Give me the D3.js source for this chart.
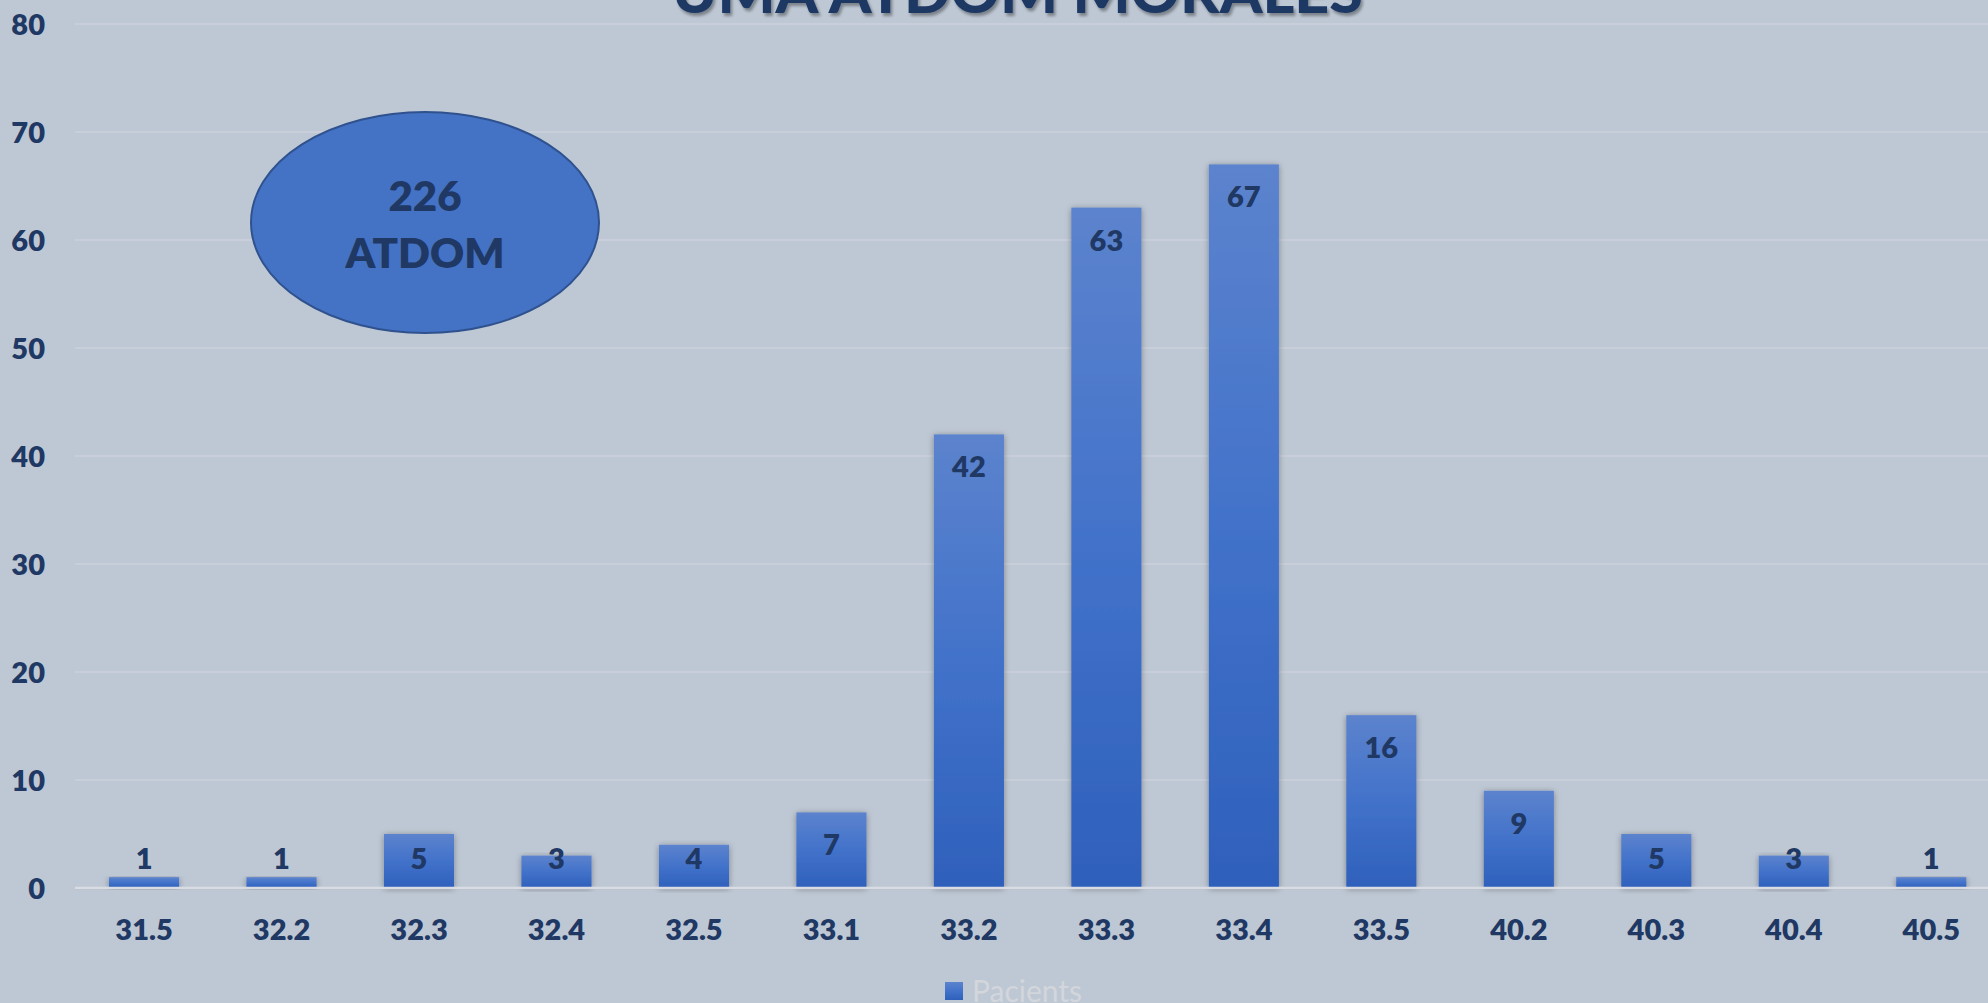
<!DOCTYPE html>
<html>
<head>
<meta charset="utf-8">
<script src="https://cdn.jsdelivr.net/npm/d3@7"></script>
<style>
  html, body { margin: 0; padding: 0; background: #BEC8D4; overflow: hidden; }
  svg { display: block; }
  text { font-family: Lato, "Open Sans", sans-serif; }
</style>
</head>
<body>
<svg id="chart" width="1988" height="1003"></svg>
<script>
const categories = ["31.5","32.2","32.3","32.4","32.5","33.1","33.2","33.3","33.4","33.5","40.2","40.3","40.4","40.5"];
const pacients = [1,1,5,3,4,7,42,63,67,16,9,5,3,1];
const yTicks = [0,10,20,30,40,50,60,70,80];
const titleText = "UMA ATDOM MORALES";
const seriesName = "Pacients";
const calloutLines = ["226", "ATDOM"];

const W = 1988, H = 1003;
const svg = d3.select("#chart");
const navy = "#1F3864";
const labelWeight = 800;

const defs = svg.append("defs");
const grad = defs.append("linearGradient").attr("id", "barGrad")
  .attr("x1", 0).attr("y1", 0).attr("x2", 0).attr("y2", 1);
grad.append("stop").attr("offset", "0%").attr("stop-color", "#5C83CD");
grad.append("stop").attr("offset", "50%").attr("stop-color", "#4272CA");
grad.append("stop").attr("offset", "100%").attr("stop-color", "#2E60BB");

const sh = defs.append("filter").attr("id", "barShadow")
  .attr("x", "-30%").attr("y", "-10%").attr("width", "160%").attr("height", "120%");
sh.append("feDropShadow").attr("dx", 0).attr("dy", 1).attr("stdDeviation", 3)
  .attr("flood-color", "#000").attr("flood-opacity", 0.35);

const tsh = defs.append("filter").attr("id", "textShadow")
  .attr("x", "-5%").attr("y", "-30%").attr("width", "110%").attr("height", "160%");
tsh.append("feDropShadow").attr("dx", 2).attr("dy", 3).attr("stdDeviation", 1.5)
  .attr("flood-color", "#000").attr("flood-opacity", 0.35);

const x = d3.scaleBand().domain(categories).range([75.3, 2000])
  .paddingInner(0.49).paddingOuter(0.245);
const y = d3.scaleLinear().domain([0, 80]).range([888, 24]);

// gridlines
svg.append("g").selectAll("line").data(yTicks.filter(d => d > 0)).join("line")
  .attr("x1", 75).attr("x2", W)
  .attr("y1", d => y(d)).attr("y2", d => y(d))
  .attr("stroke", "#CBD2DC").attr("stroke-width", 1.5);

// y axis labels
const yAxis = svg.append("g").attr("transform", "translate(75,0)")
  .call(d3.axisLeft(y).tickValues(yTicks).tickSize(0).tickPadding(30));
yAxis.select(".domain").remove();
yAxis.selectAll("text")
  .attr("fill", navy).attr("font-size", 29).attr("font-weight", labelWeight)
  .attr("font-family", "Lato, sans-serif").attr("dy", "0.36em");

// title
svg.append("text").attr("x", 1017.5).attr("y", 13)
  .attr("text-anchor", "middle")
  .attr("font-size", 58).attr("font-weight", 900)
  .attr("textLength", 691).attr("lengthAdjust", "spacingAndGlyphs")
  .attr("fill", navy).attr("filter", "url(#textShadow)")
  .text(titleText);

// bars
svg.append("g").selectAll("rect").data(pacients).join("rect")
  .attr("x", (d, i) => x(categories[i]))
  .attr("y", d => y(d))
  .attr("width", x.bandwidth())
  .attr("height", d => y(0) - y(d))
  .attr("fill", "url(#barGrad)")
  .attr("filter", "url(#barShadow)");

// axis line
svg.append("line").attr("x1", 75).attr("x2", W).attr("y1", y(0) + 1).attr("y2", y(0) + 1)
  .attr("stroke", "#8E98A6").attr("stroke-width", 1).attr("opacity", 0.5);
svg.append("line").attr("x1", 75).attr("x2", W).attr("y1", y(0)).attr("y2", y(0))
  .attr("stroke", "#D9DDE3").attr("stroke-width", 2.5);

// x axis labels
const xAxis = svg.append("g").attr("transform", `translate(0,${y(0)})`)
  .call(d3.axisBottom(x).tickSize(0).tickPadding(31.4));
xAxis.select(".domain").remove();
xAxis.selectAll("text")
  .attr("fill", navy).attr("font-size", 29).attr("font-weight", labelWeight)
  .attr("font-family", "Lato, sans-serif");

// data labels
svg.append("g").selectAll("text").data(pacients).join("text")
  .attr("x", (d, i) => x(categories[i]) + x.bandwidth() / 2)
  .attr("y", d => Math.min(y(d) + 43, 869))
  .attr("text-anchor", "middle")
  .attr("fill", navy).attr("font-size", 29).attr("font-weight", labelWeight)
  .text(d => d);

// callout ellipse
const cg = svg.append("g");
cg.append("ellipse").attr("cx", 425).attr("cy", 222.5).attr("rx", 174).attr("ry", 110.5)
  .attr("fill", "#4472C4").attr("stroke", "#2F528F").attr("stroke-width", 2);
cg.append("text").attr("x", 425).attr("y", 211).attr("text-anchor", "middle")
  .attr("fill", navy).attr("font-size", 42).attr("font-weight", labelWeight).text(calloutLines[0]);
cg.append("text").attr("x", 425).attr("y", 268).attr("text-anchor", "middle")
  .attr("fill", navy).attr("font-size", 42).attr("font-weight", labelWeight).text(calloutLines[1]);

// legend
const lg = svg.append("g");
lg.append("rect").attr("x", 945).attr("y", 982).attr("width", 18).attr("height", 18)
  .attr("fill", "url(#barGrad)");
lg.append("text").attr("x", 972).attr("y", 1002)
  .attr("fill", "#D3D6DB").attr("font-size", 30).attr("font-weight", 400)
  .text(seriesName);
</script>
</body>
</html>
